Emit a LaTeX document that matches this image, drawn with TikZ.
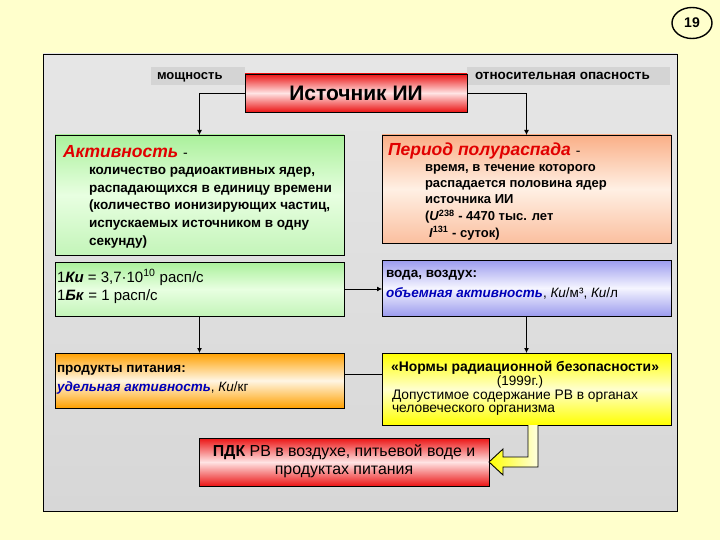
\documentclass[tikz,border=0pt]{standalone}
\usepackage{fontspec}
\setmainfont{Liberation Sans}
\usetikzlibrary{arrows.meta,calc,shapes.geometric}
\definecolor{bgy}{RGB}{255,255,204}
\definecolor{pgraytop}{RGB}{230,230,230}
\definecolor{pgraybot}{RGB}{215,215,215}
\definecolor{lblgray}{RGB}{212,212,212}
\definecolor{redtop}{RGB}{235,20,20}
\definecolor{redmid}{RGB}{255,228,228}
\definecolor{grn}{RGB}{170,240,155}
\definecolor{grnmid}{RGB}{232,255,225}
\definecolor{pch}{RGB}{250,175,135}
\definecolor{pchmid}{RGB}{255,240,228}
\definecolor{blu}{RGB}{155,155,238}
\definecolor{blumid}{RGB}{245,245,255}
\definecolor{org}{RGB}{255,160,0}
\definecolor{orgmid}{RGB}{255,246,228}
\definecolor{yel}{RGB}{255,255,0}
\definecolor{yelmid}{RGB}{255,255,205}
\definecolor{hred}{RGB}{225,0,0}
\definecolor{hblue}{RGB}{0,0,185}
\newcommand\fsz[2]{\fontsize{#1}{#2}\selectfont}
\begin{document}
\begin{tikzpicture}[x=1pt,y=-1pt,
  box/.style={draw=black,line width=0.9pt,inner sep=0pt,outer sep=0pt,anchor=north west},
  redbox/.style={box,top color=redtop,bottom color=redtop,middle color=redmid},
  grnbox/.style={box,top color=grn,bottom color=grn!70!white,middle color=grnmid},
  pchbox/.style={box,top color=pch,bottom color=pch!80!white,middle color=pchmid},
  blubox/.style={box,top color=blu,bottom color=blu,middle color=blumid},
  orgbox/.style={box,top color=org,bottom color=org,middle color=orgmid},
  yelbox/.style={box,top color=yel,bottom color=yel,middle color=yelmid},
  lbl/.style={fill=lblgray,inner sep=0pt,outer sep=0pt,anchor=north west},
  tx/.style={inner sep=0pt,outer sep=0pt,anchor=base west},
  txc/.style={inner sep=0pt,outer sep=0pt,anchor=base},
  bodyA/.style={tx,font=\fsz{13.5}{16}\bfseries},
  bodyB/.style={tx,font=\fsz{13}{15}\bfseries},
  conn/.style={line width=0.8pt,-{Latex[length=5pt,width=5pt]}},
  line/.style={line width=0.8pt},
  yarrow/.style={draw=black,line width=0.9pt,left color=yel,right color=yel!12!white}
]
\useasboundingbox (0,0) rectangle (720,540);
\fill[bgy] (0,0) rectangle (720,540);
% page number
\node[draw=black,line width=1.4pt,ellipse,minimum width=40pt,minimum height=31pt,inner sep=0pt] (num) at (692,23) {\fsz{14}{16}\bfseries 19};
% panel
\node[box,top color=pgraytop,bottom color=pgraybot,minimum width=634pt,minimum height=457pt] (panel) at (43,54) {};
% labels
\node[lbl,minimum width=94pt,minimum height=18pt] (lpow) at (151,67) {};
\node[tx,font=\fsz{13}{15}\bfseries] (tpow) at (157,80) {мощность};
\node[lbl,minimum width=203pt,minimum height=18pt] (lrel) at (467,67) {};
\node[tx,font=\fsz{13.5}{15}\bfseries] (trel) at (475,80) {относительная опасность};
% title
\node[redbox,minimum width=222pt,minimum height=38pt] (src) at (245,74) {};
\node[txc,font=\fsz{21}{23}\bfseries] (tsrc) at (356,101) {Источник ИИ};
% row 1: activity
\node[grnbox,minimum width=289pt,minimum height=120pt] (act) at (55,135) {};
\node[tx] (tact) at (63,158) {\fsz{17.5}{19}\bfseries\itshape\color{hred}Активность \normalfont\color{black}\fsz{14}{16}-};
\node[bodyA] (a1) at (89,175) {количество радиоактивных ядер,};
\node[bodyA] (a2) at (89,192.5) {распадающихся в единицу времени};
\node[bodyA] (a3) at (89,210) {(количество ионизирующих частиц,};
\node[bodyA] (a4) at (89,227.5) {испускаемых источником в одну};
\node[bodyA] (a5) at (89,245) {секунду)};
% row 1: half-life
\node[pchbox,minimum width=289pt,minimum height=108pt] (per) at (382,135) {};
\node[tx] (tper) at (388,156) {\fsz{17.5}{19}\bfseries\itshape\color{hred}Период полураспада \normalfont\color{black}\fsz{14}{16}-};
\node[bodyB] (p1) at (425,172) {время, в течение которого};
\node[bodyB] (p2) at (425,188) {распадается половина ядер};
\node[bodyB] (p3) at (425,204) {источника ИИ};
\node[bodyB] (p4) at (425,221) {(\textit{U}\textsuperscript{238} - 4470 тыс. лет};
\node[bodyB] (p5) at (429,237) {\textit{I}\textsuperscript{131} - суток)};
% row 2
\node[grnbox,minimum width=289pt,minimum height=54pt] (ku) at (55,262) {};
\node[tx,font=\fsz{15}{17}] (k1) at (57,282) {1\textbf{\textit{Ки}} = 3,7·10\textsuperscript{10} расп/с};
\node[tx,font=\fsz{15}{17}] (k2) at (57,300.5) {1\textbf{\textit{Бк}} = 1 расп/с};
\node[blubox,minimum width=289pt,minimum height=56pt] (vol) at (382,260) {};
\node[tx,font=\fsz{13.5}{16}\bfseries] (v1) at (386,277) {вода, воздух:};
\node[tx,font=\fsz{13.5}{16}] (v2) at (386,297) {\textcolor{hblue}{\bfseries\itshape объемная активность}, \textit{Ки}/м³, \textit{Ки}/л};
% row 3
\node[orgbox,minimum width=289pt,minimum height=55pt] (food) at (55,353) {};
\node[tx,font=\fsz{13.5}{16}\bfseries] (f1) at (57,372) {продукты питания:};
\node[tx,font=\fsz{13.5}{16}] (f2) at (57,391.5) {\textcolor{hblue}{\bfseries\itshape удельная активность}, \textit{Ки}/кг};
\node[yelbox,minimum width=289pt,minimum height=72pt] (norm) at (382,353) {};
\node[txc,font=\fsz{13.9}{15}\bfseries] (n1) at (525,371) {«Нормы радиационной безопасности»};
\node[txc,font=\fsz{13.5}{15}] (n2) at (520,385) {(1999г.)};
\node[tx,font=\fsz{13.8}{15}] (n3) at (392,399.5) {Допустимое содержание РВ в органах};
\node[tx,font=\fsz{13.8}{15}] (n4) at (392,412.5) {человеческого организма};
% PDK
\node[redbox,minimum width=290pt,minimum height=48pt] (pdk) at (199,438) {};
\node[txc,font=\fsz{15.9}{18}] (d1) at (344,456) {\textbf{ПДК} РВ в воздухе, питьевой воде и};
\node[txc,font=\fsz{15.9}{18}] (d2) at (344,474.5) {продуктах питания};
% connectors
\draw[conn] (src.west) -| (act.north);
\draw[conn] (src.east) -| (per.north);
\draw[conn] (ku.east) -- (ku.east -| vol.west);
\draw[conn] (ku.south) -- (food.north);
\draw[conn] (vol.south) -- (norm.north);
\draw[line] ([yshift=6pt]food.east) -- ([yshift=6pt]food.east -| norm.west);
% yellow block arrow
\draw[yarrow] (528,425) -- (528,457) -- (503,457) -- (503,449) -- (pdk.east) -- (503,475) -- (503,467) -- (538,467) -- (538,425);
\end{tikzpicture}
\end{document}
